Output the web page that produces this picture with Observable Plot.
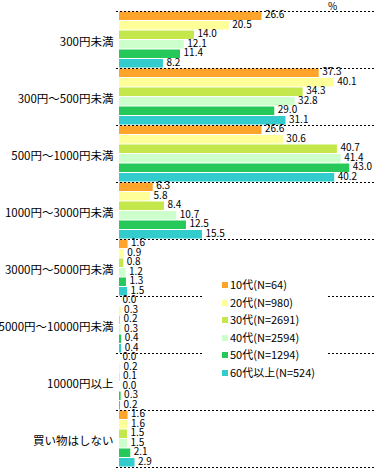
<!DOCTYPE html>
<html>
<head>
<meta charset="utf-8">
<script src="https://cdn.jsdelivr.net/npm/d3@7"></script>
<script src="https://cdn.jsdelivr.net/npm/@observablehq/plot@0.6"></script>
<style>
  html, body { margin: 0; padding: 0; background: #fff; }
  #wrap { position: relative; width: 376px; height: 468px; overflow: hidden; font-family: "Noto Sans CJK JP", sans-serif; }
  #pct { position: absolute; left: 328px; top: 1px; font-size: 10px; line-height: 10px; color: #000; }
  #legend { position: absolute; left: 204px; top: 276px; width: 124px; height: 104px; background: #fff; }
  .li { position: absolute; left: 18px; height: 14px; font-size: 11px; line-height: 14px; color: #000; white-space: nowrap; }
  .li span.sw { display: inline-block; width: 6px; height: 6px; margin-right: 2px; vertical-align: 1px; }
</style>
</head>
<body>
<div id="wrap"></div>
<script>
const categories = ["300円未満", "300円～500円未満", "500円～1000円未満", "1000円～3000円未満", "3000円～5000円未満", "5000円～10000円未満", "10000円以上", "買い物はしない"];
const ages = ["10代(N=64)", "20代(N=980)", "30代(N=2691)", "40代(N=2594)", "50代(N=1294)", "60代以上(N=524)"];
const v10 = [26.6, 37.3, 26.6, 6.3, 1.6, 0.0, 0.0, 1.6];
const v20 = [20.5, 40.1, 30.6, 5.8, 0.9, 0.3, 0.2, 1.6];
const v30 = [14.0, 34.3, 40.7, 8.4, 0.8, 0.2, 0.1, 1.5];
const v40 = [12.1, 32.8, 41.4, 10.7, 1.2, 0.3, 0.0, 1.5];
const v50 = [11.4, 29.0, 43.0, 12.5, 1.3, 0.4, 0.3, 2.1];
const v60 = [8.2, 31.1, 40.2, 15.5, 1.5, 0.4, 0.2, 2.9];
const colors = ["#FFA42A", "#FFFF99", "#C4E84C", "#CCFFCC", "#26C85A", "#33CCCC"];

const series = [v10, v20, v30, v40, v50, v60];
const n = ages.length;
const rows = [];
categories.forEach((c, g) => {
  ages.forEach((a, k) => {
    rows.push({cat: c, age: a, value: series[k][g], idx: g * n + k});
  });
});
const groupRows = categories.map((c, g) => ({cat: c, mid: g * n + n / 2}));
const bounds = d3.range(0, categories.length * n + 1, n);

const chart = Plot.plot({
  width: 376,
  height: 468,
  marginTop: 11,
  marginBottom: 1,
  marginLeft: 116,
  marginRight: 0,
  style: {fontFamily: "'Noto Sans CJK JP', sans-serif", background: "#fff", color: "#000"},
  x: {domain: [0, 48], range: [119, 376], axis: null},
  y: {domain: [0, categories.length * n], reverse: true, axis: null},
  color: {domain: ages, range: colors},
  marks: [
    Plot.rectX(rows, {x1: 0, x2: "value", y1: "idx", y2: d => d.idx + 1, fill: "age", insetTop: 0.5, insetBottom: 0.5}),
    Plot.text(rows, {x: "value", y: d => d.idx + 0.5, text: d => d.value.toFixed(1), textAnchor: "start", dx: 3, dy: -1, fontSize: 10, fill: "#000"}),
    Plot.ruleY(bounds, {stroke: "#000", strokeDasharray: "2,2", strokeWidth: 1}),
    Plot.text(groupRows, {x: 0, y: "mid", text: "cat", textAnchor: "end", dx: -6, dy: 2, fontSize: 11.5, fill: "#000"})
  ]
});

const wrap = document.getElementById("wrap");
wrap.appendChild(chart);

const pct = document.createElement("div");
pct.id = "pct";
pct.textContent = "%";
wrap.appendChild(pct);

const legend = document.createElement("div");
legend.id = "legend";
ages.forEach((a, i) => {
  const li = document.createElement("div");
  li.className = "li";
  li.style.top = (1 + i * 17.5) + "px";
  const sw = document.createElement("span");
  sw.className = "sw";
  sw.style.background = colors[i];
  li.appendChild(sw);
  li.appendChild(document.createTextNode(a));
  legend.appendChild(li);
});
wrap.appendChild(legend);
</script>
</body>
</html>
